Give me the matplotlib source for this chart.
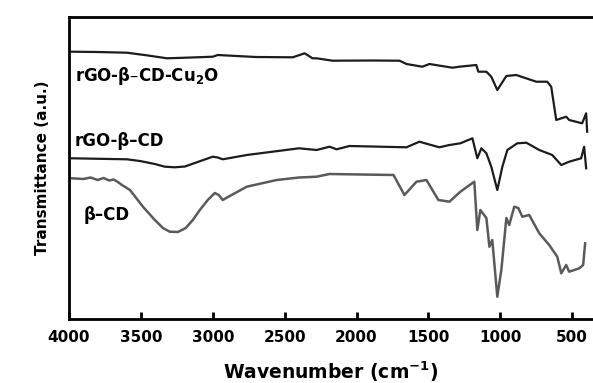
import matplotlib
matplotlib.use("Agg")
import matplotlib.pyplot as plt

# Wavenumber (cm^-1) and transmittance (arbitrary units, offset curves)
wn_cu2o = [3979, 3800, 3597, 3450, 3319, 3150, 3000, 2965, 2700, 2444, 2361, 2306, 2278,
           2167, 1900, 1701, 1653, 1542, 1493, 1333, 1285, 1167, 1153, 1097, 1063, 1021, 958,
           889, 750, 674, 646, 611, 542, 521, 431, 403, 396]
t_cu2o = [267.3, 267.0, 266.3, 263.5, 260.7, 261.5, 262.3, 264.0, 262.0, 261.7, 265.7, 260.7, 260.7,
          258.3, 258.5, 258.3, 255.0, 252.3, 255.0, 251.3, 252.3, 254.0, 247.3, 247.3, 242.3, 229.0, 243.0,
          244.0, 237.3, 237.3, 232.3, 199.0, 202.3, 199.0, 195.7, 205.7, 187.3]

wn_rgo = [3979, 3597, 3507, 3403, 3333, 3264, 3194, 3125, 3056, 3000, 2965, 2931, 2764, 2400,
          2278, 2188, 2139, 2049, 1653, 1563, 1424, 1354, 1278, 1194, 1160, 1132, 1097, 1063,
          1021, 986, 951, 882, 819, 729, 639, 576, 521, 438, 417, 403]
t_rgo = [160.7, 159.7, 158.0, 155.0, 152.3, 151.7, 152.5, 156.0, 159.5, 162.3, 161.5, 159.7, 164.0, 170.7,
         169.0, 172.3, 169.7, 173.0, 171.7, 177.3, 171.7, 174.0, 175.7, 180.7, 160.7, 170.7, 165.7, 152.3,
         129.0, 152.3, 169.0, 175.7, 176.3, 169.0, 164.0, 154.0, 157.3, 160.7, 172.3, 150.7]

wn_bcd = [3979, 3900, 3850, 3800, 3760, 3720, 3690, 3660, 3632, 3576, 3486, 3403, 3347, 3299,
          3243, 3188, 3139, 3090, 3035, 2986, 2958, 2931, 2882, 2764, 2556, 2400, 2278, 2188,
          1743, 1667, 1583, 1514, 1431, 1354, 1278, 1181, 1160, 1139, 1097, 1076, 1056, 1021,
          993, 958, 938, 903, 875, 847, 799, 729, 660, 604, 576, 542, 521, 451, 424, 410]
t_bcd = [140.7, 140.0, 141.5, 139.0, 141.0, 138.5, 139.5, 137.0, 134.0, 129.0, 112.3, 99.0, 91.0, 87.3,
         87.0, 91.0, 99.0, 109.0, 119.0, 126.0, 124.0, 119.0, 123.0, 132.3, 139.0, 141.5, 142.3, 145.0,
         144.0, 124.0, 137.3, 139.0, 119.0, 117.3, 127.3, 137.3, 89.0, 109.0, 101.0, 72.3, 79.0, 22.3,
         49.0, 101.0, 94.0, 112.3, 111.0, 102.3, 104.0, 85.7, 74.0, 62.3, 45.7, 54.0, 47.3, 50.7, 54.0, 75.7]

xticks = [4000, 3500, 3000, 2500, 2000, 1500, 1000, 500]

fig = plt.figure(figsize=(5.93, 3.83), dpi=100)
ax = fig.add_axes([0.1164, 0.1671, 0.882, 0.7885])

ax.plot(wn_cu2o, t_cu2o, color="#1c1c1c", lw=1.6)
ax.plot(wn_rgo, t_rgo, color="#1c1c1c", lw=1.6)
ax.plot(wn_bcd, t_bcd, color="#5a5a5a", lw=1.8)

ax.set_xlim(4000, 362)
ax.set_ylim(0, 302)
ax.set_xticks(xticks)
ax.set_xticklabels([str(v) for v in xticks], fontsize=11, fontweight="bold")
ax.set_yticks([])
ax.tick_params(axis="x", direction="in", length=5, width=2, pad=8)
for s in ["left", "bottom", "top"]:
    ax.spines[s].set_linewidth(2)
ax.spines["right"].set_visible(False)

ax.set_xlabel(r"Wavenumber (cm$^{\mathbf{-1}}$)", fontsize=13.5, fontweight="bold", labelpad=10)
ax.set_ylabel("Transmittance (a.u.)", fontsize=11, fontweight="bold", labelpad=14)

ax.text(3960, 243, r"rGO-β–CD-Cu$_{\mathbf{2}}$O", fontsize=12, fontweight="bold", va="center")
ax.text(3960, 178, "rGO-β–CD", fontsize=12, fontweight="bold", va="center")
ax.text(3900, 104, "β–CD", fontsize=12, fontweight="bold", va="center")

fig.savefig("out.png", dpi=100)
